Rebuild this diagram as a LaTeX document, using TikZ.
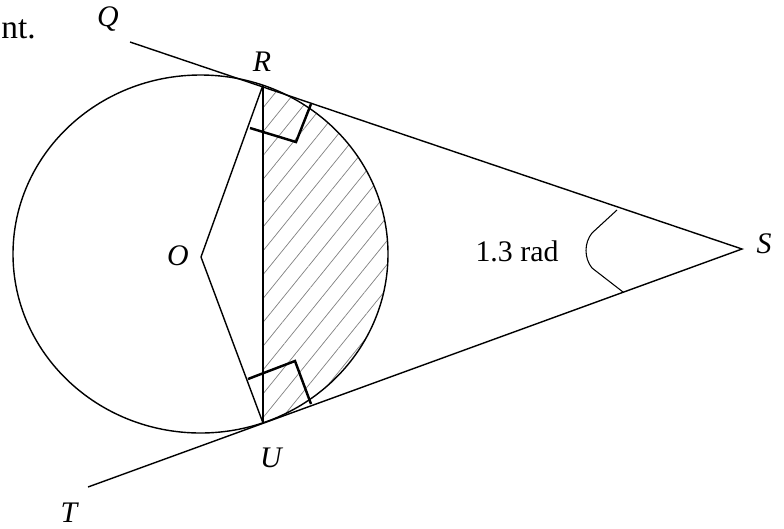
\documentclass[tikz,border=0pt]{standalone}
\usepackage{fontspec}
\setmainfont{Liberation Serif}
\usetikzlibrary{patterns.meta}

\begin{document}
\begin{tikzpicture}[x=0.02cm,y=-0.02cm,
  ln/.style={line width=0.8pt},
  lbl/.style={font=\itshape\fontsize{17}{20}\selectfont,inner sep=0pt},
  rtmark/.style={line width=1.4pt},
  hatch/.style={pattern={Lines[angle=51,distance=0.3cm,line width=0.4pt]},
                pattern color=gray}
]
\useasboundingbox (0,0) rectangle (784,528);
\clip (0,0) rectangle (784,528);

% Points
\coordinate (C) at (200.5,254);
\coordinate (Q) at (130,42);
\coordinate (S) at (742,249);
\coordinate (T) at (88,487);
\coordinate (R) at (263,85);
\coordinate (U) at (263,423);
\coordinate (O) at (201,257);

% Circle and shaded segment
\fill[hatch] (R) -- (U)
  arc[start angle=70.5,end angle=-70.5,x radius=187.5,y radius=179] -- cycle;
\draw[ln] (C) ellipse[x radius=187.5,y radius=179];

% Tangents
\draw[ln] (Q) -- (S) -- (T);

% Radii and chord
\draw[ln] (R) -- (O) -- (U);
\draw[ln] (R) -- (U);

% Right angles
\draw[rtmark] (250,128) -- (296,142) -- (311,104);
\draw[rtmark] (248,379) -- (295,361) -- (311,404);

% Angle at S
\draw[line width=0.6pt] (617,210) -- (592,233)
  .. controls (584,243) and (584,258) .. (592,268) -- (623,292);

% Labels
\node[lbl] (lQ) at (108,19) {Q};
\node[lbl] (lR) at (262,62) {R};
\node[lbl] (lO) at (178,256) {O};
\node[lbl] (lU) at (271,458) {U};
\node[lbl] (lT) at (69,513) {T};
\node[lbl] (lS) at (764,244) {S};
\node[font=\fontsize{17}{20}\selectfont,inner sep=0pt] (ang) at (517,251) {1.3 rad};
\node[font=\fontsize{19}{22}\selectfont,anchor=base west,inner sep=0pt] (nt) at (1,38) {nt.};

\end{tikzpicture}
\end{document}
